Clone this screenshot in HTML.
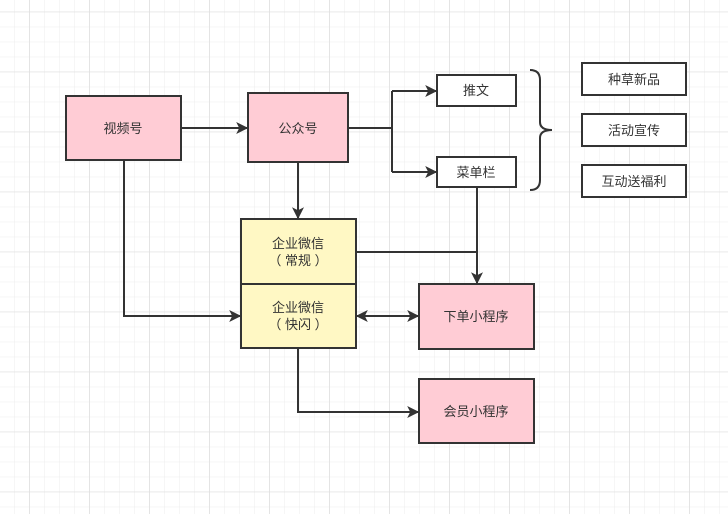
<!DOCTYPE html>
<html><head><meta charset="utf-8"><style>
html,body{margin:0;padding:0;background:#fff;}
svg{display:block;}
text{font-family:"Liberation Sans","Noto Sans CJK SC",sans-serif;font-size:13px;fill:#333;text-anchor:middle;}
</style></head><body>
<svg width="728" height="514" viewBox="0 0 728 514" xmlns="http://www.w3.org/2000/svg">
<defs>
<pattern id="g" x="14" y="11.7" width="15" height="15" patternUnits="userSpaceOnUse">
<path d="M0 0H15M0 0V15" stroke="#ececec" stroke-width="1" fill="none"/>
</pattern>
<pattern id="G" x="29.5" y="11.7" width="60" height="60" patternUnits="userSpaceOnUse">
<path d="M0 0H60M0 0V60" stroke="#dcdcdc" stroke-width="1" fill="none"/>
</pattern>
<marker id="a" viewBox="0 0 10 10" refX="9" refY="5" markerWidth="12" markerHeight="12" markerUnits="userSpaceOnUse" orient="auto-start-reverse">
<path d="M0 0L10 5L0 10L2.5 5Z" fill="#333"/>
</marker>
</defs>
<rect width="728" height="514" fill="url(#g)"/>
<rect width="728" height="514" fill="url(#G)"/>
<g stroke="#333" stroke-width="2" fill="none">
<path d="M181 128H247" marker-end="url(#a)"/>
<path d="M348 128H392"/>
<path d="M392 91V172"/>
<path d="M392 91H436" marker-end="url(#a)"/>
<path d="M392 172H436" marker-end="url(#a)"/>
<path d="M298 162V218" marker-end="url(#a)"/>
<path d="M124 160V316H240" marker-end="url(#a)"/>
<path d="M356 252H477"/>
<path d="M477 187V283" marker-end="url(#a)"/>
<path d="M357 316H418" marker-start="url(#a)" marker-end="url(#a)"/>
<path d="M298 348V412H418" marker-end="url(#a)"/>
<path d="M530 70Q540 70 540 80V122Q540 130 552 130Q540 130 540 138V180Q540 190 530 190"/>
</g>
<g stroke="#333" stroke-width="2">
<rect x="66" y="96" width="115" height="64" fill="#ffccd5"/>
<rect x="248" y="93" width="100" height="69" fill="#ffccd5"/>
<rect x="241" y="219" width="115" height="65" fill="#fff8c4"/>
<rect x="241" y="284" width="115" height="64" fill="#fff8c4"/>
<rect x="437" y="75" width="79" height="31" fill="#fff"/>
<rect x="437" y="157" width="79" height="30" fill="#fff"/>
<rect x="582" y="63" width="104" height="32" fill="#fff"/>
<rect x="582" y="114" width="104" height="32" fill="#fff"/>
<rect x="582" y="165" width="104" height="32" fill="#fff"/>
<rect x="419" y="284" width="115" height="65" fill="#ffccd5"/>
<rect x="419" y="379" width="115" height="64" fill="#ffccd5"/>
</g>
<text x="123" y="133">视频号</text>
<text x="298" y="133">公众号</text>
<text x="298" y="248">企业微信</text>
<text x="298" y="265">（ 常规 ）</text>
<text x="298" y="312">企业微信</text>
<text x="298" y="329">（ 快闪 ）</text>
<text x="476" y="95">推文</text>
<text x="476" y="177">菜单栏</text>
<text x="634" y="84">种草新品</text>
<text x="634" y="135">活动宣传</text>
<text x="634" y="186">互动送福利</text>
<text x="476" y="321">下单小程序</text>
<text x="476" y="416">会员小程序</text>
</svg>
</body></html>
